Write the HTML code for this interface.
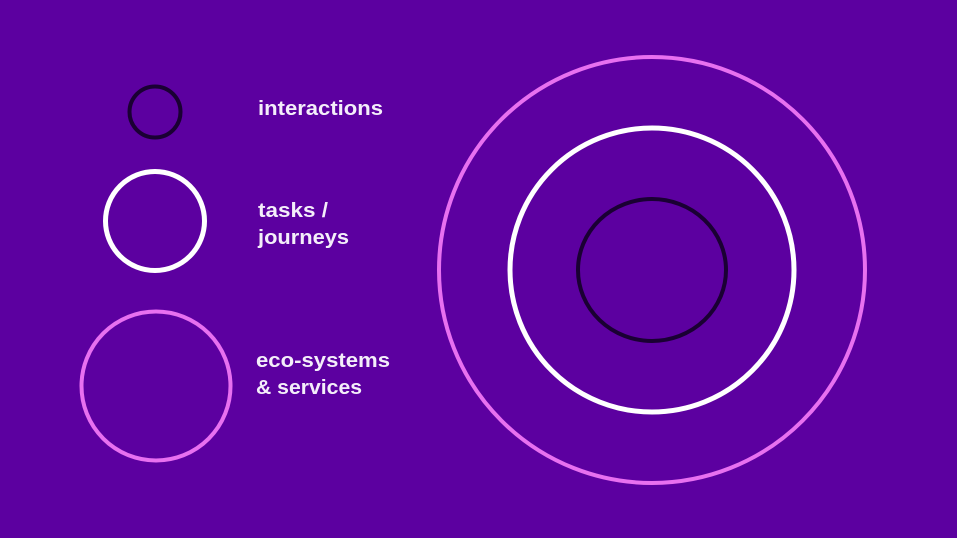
<!DOCTYPE html>
<html><head><style>
body{margin:0;width:957px;height:538px;overflow:hidden;background:#5c00a0}
svg{display:block}
text{font-family:"Liberation Sans",sans-serif;font-weight:bold;font-size:20px;fill:#f4eefa}
</style></head><body>
<svg width="957" height="538" viewBox="0 0 957 538">
<rect width="957" height="538" fill="#5c00a0"/>
<circle cx="155" cy="112" r="25.5" fill="none" stroke="#1a0033" stroke-width="4"/>
<circle cx="155" cy="221" r="49.5" fill="none" stroke="#fff" stroke-width="5"/>
<circle cx="156" cy="386" r="74.5" fill="none" stroke="#e870f0" stroke-width="4"/>
<circle cx="652" cy="270" r="213" fill="none" stroke="#e870f0" stroke-width="4"/>
<circle cx="652" cy="270" r="142" fill="none" stroke="#fff" stroke-width="5"/>
<ellipse cx="652" cy="270" rx="74" ry="71" fill="none" stroke="#1a0033" stroke-width="4"/>
<text x="258" y="115" textLength="125" lengthAdjust="spacingAndGlyphs">interactions</text>
<text x="258" y="217" textLength="70" lengthAdjust="spacingAndGlyphs">tasks /</text>
<text x="258" y="244" textLength="91" lengthAdjust="spacingAndGlyphs">journeys</text>
<text x="256" y="367" textLength="134" lengthAdjust="spacingAndGlyphs">eco-systems</text>
<text x="256" y="394" textLength="106" lengthAdjust="spacingAndGlyphs">&amp; services</text>
</svg>
</body></html>
